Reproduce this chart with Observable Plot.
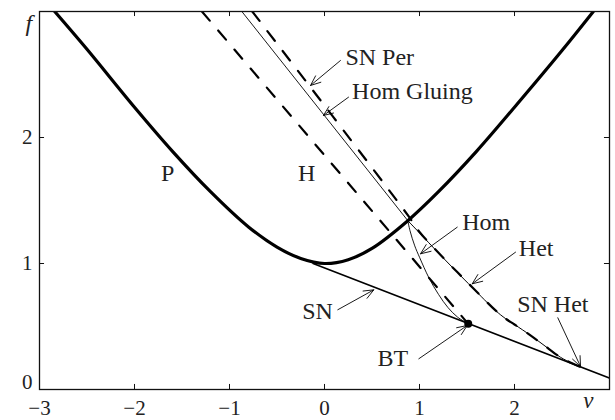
<!DOCTYPE html>
<html>
<head>
<meta charset="utf-8">
<script src="https://cdn.jsdelivr.net/npm/d3@7"></script>
<script src="https://cdn.jsdelivr.net/npm/@observablehq/plot@0.6"></script>
<style>
  body { margin: 0; background: #fff; }
</style>
</head>
<body>
<div id="chart"></div>
<script>
// Bifurcation curves in the (ν, f) parameter plane, as [ν, f] pairs
const periodCurve = [
  [-2.84, 3.0], [-2.5, 2.7], [-2.0, 2.24], [-1.6, 1.89], [-1.2, 1.57],
  [-0.8, 1.29], [-0.5, 1.13], [-0.25, 1.04], [0, 1.0], [0.25, 1.03],
  [0.5, 1.12], [0.877, 1.34], [1.2, 1.57], [1.6, 1.89], [2.0, 2.24],
  [2.5, 2.69], [2.83, 3.0]
];
const saddleNode = [[-0.12, 1.0], [3.0, 0.09]];
const hopf = [[-1.29, 3.0], [1.513, 0.521]];
const homGluing = [[-0.87, 3.0], [0.877, 1.34]];
const snPer = [
  [-0.76, 3.0], [0.9, 1.36], [1.0, 1.25], [1.2, 1.085], [1.4, 0.93],
  [1.555, 0.812], [1.8, 0.628], [1.905, 0.563], [2.0, 0.516], [2.168, 0.43],
  [2.3, 0.357], [2.484, 0.256], [2.6, 0.21], [2.695, 0.178]
];
const het = [
  [0.877, 1.34], [1.0, 1.243], [1.2, 1.083], [1.4, 0.928], [1.555, 0.81],
  [1.8, 0.627], [1.905, 0.563], [2.0, 0.516], [2.168, 0.43], [2.3, 0.357],
  [2.484, 0.256], [2.6, 0.21], [2.695, 0.178]
];
const hom = [
  [0.877, 1.34], [0.9, 1.26], [0.95, 1.14], [1.0, 1.05], [1.1, 0.885],
  [1.2, 0.755], [1.3, 0.65], [1.4, 0.575], [1.513, 0.521]
];
const btPoint = [[1.513, 0.521]];

// Axis ticks
const xTicks = [-3, -2, -1, 0, 1, 2];
const xInnerTicks = [-2, -1, 0, 1, 2];
const yTicks = [1, 2];

// Curve labels
const labelText = ["P", "H", "SN Per", "Hom Gluing", "Hom", "Het", "SN Het", "SN", "BT"];
const labelNu   = [-1.72, -0.28, 0.22, 0.29, 1.449, 2.046, 2.028, -0.235, 0.558];
const labelF    = [1.714, 1.718, 2.639, 2.363, 1.329, 1.117, 0.674, 0.619, 0.246];
const labels = labelText.map((t, i) => ({text: t, nu: labelNu[i], f: labelF[i]}));

// Pointer arrows: [ν1, f1, ν2, f2]
const pointers = [
  [0.168, 2.611, -0.147, 2.413],
  [0.253, 2.320, -0.011, 2.175],
  [1.397, 1.288, 1.011, 1.077],
  [2.011, 1.090, 1.555, 0.839],
  [2.456, 0.569, 2.695, 0.183],
  [0.14, 0.633, 0.519, 0.791],
  [0.993, 0.244, 1.502, 0.508]
];

const fmt = d => d < 0 ? "\u2212" + Math.abs(d) : String(d);
const serif = "Liberation Serif, Times New Roman, serif";
const px = d => d[0], py = d => d[1];

const chart = Plot.plot({
  width: 615,
  height: 420,
  marginLeft: 39,
  marginRight: 6,
  marginTop: 11,
  marginBottom: 31,
  x: {domain: [-3, 3], axis: null},
  y: {domain: [0, 3], axis: null},
  style: {fontFamily: serif, background: "#fff", color: "#111"},
  marks: [
    // inward ticks on all four sides
    Plot.ruleX(xInnerTicks, {x: d => d, y1: d => 0, y2: d => 0.04, stroke: "#111", strokeWidth: 1}),
    Plot.ruleX(xInnerTicks, {x: d => d, y1: d => 3, y2: d => 2.96, stroke: "#111", strokeWidth: 1}),
    Plot.ruleY(yTicks, {y: d => d, x1: d => -3, x2: d => -2.947, stroke: "#111", strokeWidth: 1}),
    Plot.ruleY(yTicks, {y: d => d, x1: d => 3, x2: d => 2.947, stroke: "#111", strokeWidth: 1}),

    // curves
    Plot.line(saddleNode, {x: px, y: py, stroke: "#000", strokeWidth: 1.6, clip: true}),
    Plot.line(hopf, {x: px, y: py, stroke: "#000", strokeWidth: 2.2, strokeDasharray: "12,13", clip: true}),
    Plot.line(homGluing, {x: px, y: py, stroke: "#000", strokeWidth: 0.9, clip: true}),
    Plot.line(het, {x: px, y: py, stroke: "#000", strokeWidth: 1.0, curve: "catmull-rom", clip: true}),
    Plot.line(snPer, {x: px, y: py, stroke: "#000", strokeWidth: 2.2, strokeDasharray: "12,13", curve: "catmull-rom", clip: true}),
    Plot.line(hom, {x: px, y: py, stroke: "#000", strokeWidth: 0.9, curve: "catmull-rom", clip: true}),
    Plot.line(periodCurve, {x: px, y: py, stroke: "#000", strokeWidth: 3.2, curve: "catmull-rom", clip: true}),
    Plot.dot(btPoint, {x: px, y: py, r: 4, fill: "#000"}),

    // pointer arrows
    Plot.arrow(pointers, {
      x1: d => d[0], y1: d => d[1], x2: d => d[2], y2: d => d[3],
      stroke: "#000", strokeWidth: 0.9, headLength: 18, headAngle: 45
    }),

    // curve labels
    Plot.text(labels, {x: "nu", y: "f", text: "text", textAnchor: "start", fontSize: 24, fontFamily: serif, fill: "#222"}),

    // frame
    Plot.frame({stroke: "#111", strokeWidth: 1.3}),

    // tick labels
    Plot.text(xTicks, {x: d => d, y: d => 0, dy: 19, text: fmt, fontSize: 21, fontFamily: serif, fill: "#222"}),
    Plot.text(yTicks, {x: d => -3, y: d => d, dx: -7, text: fmt, textAnchor: "end", fontSize: 21, fontFamily: serif, fill: "#222"}),
    Plot.text([0], {x: d => -3, y: d => d, dx: -7, dy: -7, text: fmt, textAnchor: "end", fontSize: 21, fontFamily: serif, fill: "#222"}),

    // axis names
    Plot.text(["f"], {frameAnchor: "top-left", dx: -14, dy: 2, lineAnchor: "top", text: d => d, fontSize: 24, fontStyle: "italic", fontFamily: serif, fill: "#222"}),
    Plot.text(["\u03bd"], {frameAnchor: "bottom-right", dx: -16, dy: 18, text: d => d, fontSize: 23, fontStyle: "italic", fontFamily: serif, fill: "#222"})
  ]
});

document.getElementById("chart").appendChild(chart);
</script>
</body>
</html>
